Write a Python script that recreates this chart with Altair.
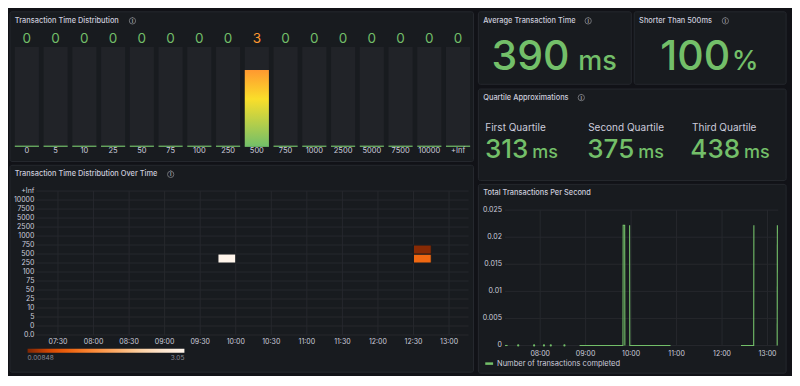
import altair as alt
import pandas as pd

# ---------------- data ----------------
gauge_buckets = ["0", "5", "10", "25", "50", "75", "100", "250", "500", "750",
                 "1000", "2500", "5000", "7500", "10000", "+Inf"]
gauge_counts = [0, 0, 0, 0, 0, 0, 0, 0, 3, 0, 0, 0, 0, 0, 0, 0]
gauge_max = 3.9

heat_rows = ["0.0", "0", "5", "10", "25", "50", "75", "100", "250", "500", "750",
             "1000", "2500", "5000", "7500", "10000", "+Inf"]
heat_time_ticks = ["07:30", "08:00", "08:30", "09:00", "09:30", "10:00", "10:30",
                   "11:00", "11:30", "12:00", "12:30", "13:00"]
heat_cell_start = ["09:45", "12:30", "12:30"]
heat_cell_end = ["10:00", "12:45", "12:45"]
heat_cell_low = ["250", "250", "500"]
heat_cell_high = ["500", "500", "750"]
heat_cell_value = [3.05, 0.86, 0.05]
heat_legend_range = [0.00848, 3.05]
heat_palette = ["#7f2704", "#d94801", "#f16913", "#fd8d3c", "#fdae6b",
                "#fdd0a2", "#fee6ce", "#fff5eb"]

avg_time_ms = 390
share_under_500 = 100
quartile_names = ["First Quartile", "Second Quartile", "Third Quartile"]
quartile_ms = [313, 375, 438]

tps_time_ticks = ["08:00", "09:00", "10:00", "11:00", "12:00", "13:00"]
tps_value_ticks = [0, 0.005, 0.01, 0.015, 0.02, 0.025]
tps_value_labels = ["0", "0.005", "0.01", "0.015", "0.02", "0.025"]
tps_seg = [0, 0,
           1, 1, 1, 1, 1,
           2, 2, 2,
           3, 3, 3,
           4, 4]
tps_time = ["07:13:40", "07:17:00",
            "08:52:00", "09:49:15", "09:49:30", "09:51:30", "09:51:45",
            "09:58:00", "09:58:15", "10:52:00",
            "12:25:00", "12:41:45", "12:42:00",
            "13:12:45", "13:13:00"]
tps_value = [0, 0,
             0, 0, 0.0222, 0.0222, 0,
             0.0222, 0, 0,
             0, 0, 0.0222,
             0, 0.0222]
tps_dot_time = ["07:31:00", "07:52:00", "08:05:00", "08:14:00", "08:32:00"]
tps_series_name = "Number of transactions completed"

panel_titles = ["Transaction Time Distribution", "Transaction Time Distribution Over Time",
                "Average Transaction Time", "Shorter Than 500ms",
                "Quartile Approximations", "Total Transactions Per Second"]


def mins(s):
    p = [float(v) for v in s.split(":")]
    return p[0] * 60 + p[1] + (p[2] / 60 if len(p) > 2 else 0)


# ---------------- layout ----------------
W, H = 784, 368
SX, SY = W / 800, H / 386


def X(v):
    return v * SX


def Y(v):
    return v * SY


FONT = "Inter"
TXT = "#ccccdc"
GREEN = "#73bf69"
ORANGE = "#ff9830"
GRID = "#26282d"
PANEL = "#181b1f"

fx = alt.Scale(domain=[0, 800], range=[0, W])
fy = alt.Scale(domain=[0, 386], range=[0, H])


def fxy(xf, yf):
    return dict(x=alt.X(xf, scale=fx, axis=None), y=alt.Y(yf, scale=fy, axis=None))


# ---- frame: panels, titles, stats ----
panels = pd.DataFrame({"x": [2, 2, 480, 639, 480, 480],
                       "x2": [475, 475, 636, 794, 794, 794],
                       "y": [4, 165, 4, 4, 85, 185],
                       "y2": [161, 382, 80, 80, 181, 383]})
panel_layer = alt.Chart(panels).mark_rect(
    fill=PANEL, stroke="#25282e", strokeWidth=1, cornerRadius=2
).encode(x2="x2:Q", y2="y2:Q", **fxy("x:Q", "y:Q"))

titles = pd.DataFrame({"t": panel_titles,
                       "x": [7, 7, 485, 644, 485, 485],
                       "y": [13.5, 174.5, 13.5, 13.5, 94, 194.5]})
title_layer = alt.Chart(titles).mark_text(
    align="left", baseline="middle", fontSize=7.4, fontWeight=500, color=TXT
).encode(text="t:N", **fxy("x:Q", "y:Q"))

icons = pd.DataFrame({"x": [127, 166, 592, 732, 585], "y": [13.5, 174.5, 13.5, 13.5, 94]})
icon_ring = alt.Chart(icons).mark_point(
    shape="circle", filled=False, size=40, color="#9fa1a6", strokeWidth=0.9
).encode(**fxy("x:Q", "y:Q"))
icon_i = alt.Chart(icons).mark_text(
    text="i", fontSize=5.5, fontWeight=700, color="#9fa1a6", baseline="middle"
).encode(**fxy("x:Q", "y:Q"))

stats = pd.DataFrame({"v": [str(avg_time_ms), str(share_under_500)],
                      "u": ["ms", "%"],
                      "x": [573, 737], "ux": [582, 738.5], "y": [65, 65]})
stat_num = alt.Chart(stats).mark_text(
    align="right", baseline="alphabetic", fontSize=41, fontWeight=500, color=GREEN
).encode(text="v:N", **fxy("x:Q", "y:Q"))
stat_unit = alt.Chart(stats).mark_text(
    align="left", baseline="alphabetic", fontSize=27, fontWeight=500, color=GREEN
).encode(text="u:N", **fxy("ux:Q", "y:Q"))

quart = pd.DataFrame({"name": quartile_names,
                      "v": [str(q) for q in quartile_ms],
                      "u": ["ms"] * len(quartile_ms),
                      "x": [487, 592, 698], "vx": [531, 639, 747],
                      "ux": [535, 643, 751],
                      "ly": [126, 126, 126], "vy": [157, 157, 157]})
q_name = alt.Chart(quart).mark_text(
    align="left", baseline="middle", fontSize=10, color=TXT
).encode(text="name:N", **fxy("x:Q", "ly:Q"))
q_num = alt.Chart(quart).mark_text(
    align="right", baseline="alphabetic", fontSize=26, fontWeight=500, color=GREEN
).encode(text="v:N", **fxy("vx:Q", "vy:Q"))
q_unit = alt.Chart(quart).mark_text(
    align="left", baseline="alphabetic", fontSize=18, fontWeight=500, color=GREEN
).encode(text="u:N", **fxy("ux:Q", "vy:Q"))

leg = pd.DataFrame({"t": [tps_series_name], "x": [487], "x2": [495], "tx": [499], "y": [373]})
leg_swatch = alt.Chart(leg).mark_rule(color=GREEN, strokeWidth=2.5).encode(
    x2="x2:Q", **fxy("x:Q", "y:Q"))
leg_text = alt.Chart(leg).mark_text(align="left", baseline="middle", fontSize=7.5, color=TXT).encode(
    text="t:N", **fxy("tx:Q", "y:Q"))

frame = alt.layer(panel_layer, title_layer, icon_ring, icon_i, stat_num, stat_unit,
                  q_name, q_num, q_unit, leg_swatch, leg_text)

# ---- bar gauge ----
gdf = pd.DataFrame({"bucket": gauge_buckets, "count": gauge_counts, "i": list(range(len(gauge_buckets)))})
gx = alt.Scale(domain=[0, 15], range=[X(19.25), X(459.25)])
gy = alt.Scale(domain=[0, gauge_max], range=[Y(145), Y(41)])
gbase = alt.Chart(gdf).transform_calculate(
    lo="datum.i - 0.42", hi="datum.i + 0.42", zero="0", top=str(gauge_max))
g_track = gbase.mark_rect(color="#212328").encode(
    x=alt.X("lo:Q", scale=gx, axis=None), x2="hi:Q",
    y=alt.Y("zero:Q", scale=gy, axis=None), y2="top:Q")
grad = alt.LinearGradient(
    gradient="linear",
    stops=[alt.GradientStop(color=GREEN, offset=0),
           alt.GradientStop(color="#fade2a", offset=0.62),
           alt.GradientStop(color=ORANGE, offset=1)],
    x1=0, x2=0, y1=1, y2=0)
g_fill = gbase.transform_filter("datum.count > 0").mark_rect(fill=grad).encode(
    x=alt.X("lo:Q", scale=gx, axis=None), x2="hi:Q",
    y=alt.Y("zero:Q", scale=gy, axis=None), y2="count:Q")
g_base = gbase.mark_rule(color=GREEN, strokeWidth=1.2).encode(
    x=alt.X("lo:Q", scale=gx, axis=None), x2="hi:Q",
    y=alt.Y("zero:Q", scale=gy, axis=None))
g_val = gbase.mark_text(fontSize=13.5, baseline="middle").encode(
    x=alt.X("i:Q", scale=gx, axis=None), y=alt.value(Y(32)), text="count:Q",
    color=alt.condition("datum.count > 0", alt.value(ORANGE), alt.value(GREEN)))
g_lab = gbase.mark_text(fontSize=7.5, baseline="middle", color=TXT).encode(
    x=alt.X("i:Q", scale=gx, axis=None), y=alt.value(Y(150.5)), text="bucket:N")
gauge = alt.layer(g_track, g_fill, g_base, g_val, g_lab)

# ---- heatmap ----
hx = alt.Scale(domain=[mins("07:11:48"), mins("13:16:30")], range=[X(29), X(470)])
hy = alt.Scale(domain=[0, 16], range=[Y(343), Y(192)])
rows_df = pd.DataFrame({"label": heat_rows, "idx": list(range(len(heat_rows)))})
hticks = pd.DataFrame({"label": heat_time_ticks, "m": [mins(t) for t in heat_time_ticks]})
cells = pd.DataFrame({"s": [mins(t) for t in heat_cell_start],
                      "e": [mins(t) for t in heat_cell_end],
                      "lo": [heat_rows.index(v) for v in heat_cell_low],
                      "hi": [heat_rows.index(v) for v in heat_cell_high],
                      "v": heat_cell_value})
h_hgrid = alt.Chart(rows_df).mark_rule(color=GRID, strokeWidth=1).encode(
    y=alt.Y("idx:Q", scale=hy, axis=None), x=alt.value(X(29)), x2=alt.value(X(470)))
h_vgrid = alt.Chart(hticks).mark_rule(color=GRID, strokeWidth=1).encode(
    x=alt.X("m:Q", scale=hx, axis=None), y=alt.value(Y(192)), y2=alt.value(Y(343)))
h_ylab = alt.Chart(rows_df).mark_text(align="right", baseline="middle", fontSize=7, color=TXT).encode(
    y=alt.Y("idx:Q", scale=hy, axis=None), x=alt.value(X(27)), text="label:N")
h_xlab = alt.Chart(hticks).mark_text(align="center", baseline="middle", fontSize=7, color=TXT).encode(
    x=alt.X("m:Q", scale=hx, axis=None), y=alt.value(Y(350.5)), text="label:N")
h_cells = alt.Chart(cells).mark_rect(stroke=PANEL, strokeWidth=1).encode(
    x=alt.X("s:Q", scale=hx, axis=None), x2="e:Q",
    y=alt.Y("lo:Q", scale=hy, axis=None), y2="hi:Q",
    color=alt.Color("v:Q", title=None,
                    scale=alt.Scale(domain=heat_legend_range, range=heat_palette),
                    legend=alt.Legend(orient="none", legendX=X(20), legendY=Y(357.5),
                                      direction="horizontal", gradientLength=X(160),
                                      gradientThickness=4, gradientStrokeWidth=0,
                                      values=heat_legend_range, format=".3~g",
                                      labelFontSize=6.5, labelColor="#8e8e9a",
                                      labelFont=FONT, labelOffset=2)))
heat = alt.layer(h_hgrid, h_vgrid, h_ylab, h_xlab, h_cells)

# ---- time series ----
tx = alt.Scale(domain=[mins("07:13:24"), mins("13:14:12")], range=[X(507), X(786)])
ty = alt.Scale(domain=[0, 0.025], range=[Y(354), Y(212)])
tps = pd.DataFrame({"seg": tps_seg, "t": [mins(t) for t in tps_time], "v": tps_value})
dots = pd.DataFrame({"t": [mins(t) for t in tps_dot_time], "v": [0] * len(tps_dot_time)})
yt = pd.DataFrame({"v": tps_value_ticks, "label": tps_value_labels})
xt = pd.DataFrame({"label": tps_time_ticks, "m": [mins(t) for t in tps_time_ticks]})
t_hgrid = alt.Chart(yt).mark_rule(color=GRID, strokeWidth=1).encode(
    y=alt.Y("v:Q", scale=ty, axis=None), x=alt.value(X(507)), x2=alt.value(X(786)))
t_vgrid = alt.Chart(xt).mark_rule(color=GRID, strokeWidth=1).encode(
    x=alt.X("m:Q", scale=tx, axis=None), y=alt.value(Y(212)), y2=alt.value(Y(354)))
t_ylab = alt.Chart(yt).mark_text(align="right", baseline="middle", fontSize=7, color=TXT).encode(
    y=alt.Y("v:Q", scale=ty, axis=None), x=alt.value(X(504)), text="label:N")
t_xlab = alt.Chart(xt).mark_text(align="center", baseline="middle", fontSize=7, color=TXT).encode(
    x=alt.X("m:Q", scale=tx, axis=None), y=alt.value(Y(363)), text="label:N")
t_line = alt.Chart(tps).mark_line(color=GREEN, strokeWidth=1.1).encode(
    x=alt.X("t:Q", scale=tx, axis=None), y=alt.Y("v:Q", scale=ty, axis=None),
    detail="seg:N", order="t:Q")
t_dots = alt.Chart(dots).mark_circle(color=GREEN, size=5, opacity=1).encode(
    x=alt.X("t:Q", scale=tx, axis=None), y=alt.Y("v:Q", scale=ty, axis=None))
ts = alt.layer(t_hgrid, t_vgrid, t_ylab, t_xlab, t_line, t_dots)

chart = alt.layer(frame, gauge, heat, ts).resolve_scale(
    x="independent", y="independent", color="independent"
).properties(
    width=W, height=H, background="#111217", padding=0,
    autosize=alt.AutoSizeParams(type="none")
).configure_view(stroke=None).configure_text(font=FONT)

chart.save("out.html", embed_options={"renderer": "svg", "actions": False})
